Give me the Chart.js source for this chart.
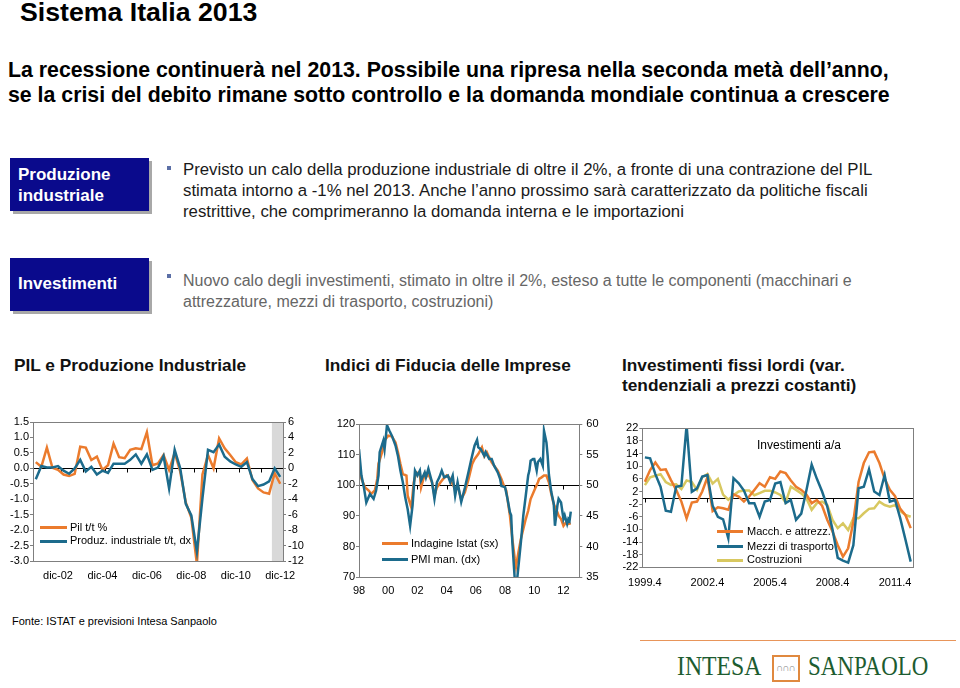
<!DOCTYPE html>
<html><head><meta charset="utf-8">
<script src="https://cdn.jsdelivr.net/npm/chart.js@4.4.0/dist/chart.umd.min.js"></script>
<style>
body{margin:0;width:960px;height:688px;background:#fff;position:relative;overflow:hidden;font-family:"Liberation Sans",Arial,sans-serif;color:#000;}
.t{position:absolute;white-space:nowrap;line-height:1;}
.box{position:absolute;left:10px;width:139px;height:53px;background:#0a0a8c;box-shadow:3px 3px 0 #a8a8a8;}
.bw{color:#fff;font-weight:bold;font-size:17px;}
.bul{position:absolute;left:167px;width:4px;height:4px;background:#5b6fa6;}
.lg{position:absolute;height:3px;}
canvas{position:absolute;}
</style></head><body>

<div class="t" style="left:20px;top:-0.6px;font-size:26.7px;font-weight:bold;">Sistema Italia 2013</div>
<div class="t" style="left:8px;top:60px;font-size:21.3px;font-weight:bold;">La recessione continuerà nel 2013. Possibile una ripresa nella seconda metà dell’anno,</div>
<div class="t" style="left:8px;top:85px;font-size:21.3px;font-weight:bold;">se la crisi del debito rimane sotto controllo e la domanda mondiale continua a crescere</div>

<div class="box" style="top:158px;"></div>
<div class="t bw" style="left:18px;top:165.6px;">Produzione</div>
<div class="t bw" style="left:18px;top:186.6px;">industriale</div>
<div class="bul" style="top:166px;"></div>
<div class="t" style="left:183px;top:161.8px;font-size:16.8px;color:#1a1a1a;">Previsto un calo della produzione industriale di oltre il 2%, a fronte di una contrazione del PIL</div>
<div class="t" style="left:183px;top:182.8px;font-size:16.8px;color:#1a1a1a;">stimata intorno a -1% nel 2013. Anche l’anno prossimo sarà caratterizzato da politiche fiscali</div>
<div class="t" style="left:183px;top:203.8px;font-size:16.8px;color:#1a1a1a;">restrittive, che comprimeranno la domanda interna e le importazioni</div>

<div class="box" style="top:258px;"></div>
<div class="t bw" style="left:18px;top:274.6px;">Investimenti</div>
<div class="bul" style="top:274px;"></div>
<div class="t" style="left:183px;top:272.5px;font-size:16px;color:#666;">Nuovo calo degli investimenti, stimato in oltre il 2%, esteso a tutte le componenti (macchinari e</div>
<div class="t" style="left:183px;top:293.5px;font-size:16px;color:#666;">attrezzature, mezzi di trasporto, costruzioni)</div>

<div class="t" style="left:14px;top:357.4px;font-size:17.3px;font-weight:bold;color:#111;">PIL e Produzione Industriale</div>
<div class="t" style="left:325px;top:357.4px;font-size:17.3px;font-weight:bold;color:#111;">Indici di Fiducia delle Imprese</div>
<div class="t" style="left:622px;top:357.4px;font-size:17.3px;font-weight:bold;color:#111;">Investimenti fissi lordi (var.</div>
<div class="t" style="left:622px;top:377.4px;font-size:17.3px;font-weight:bold;color:#111;">tendenziali a prezzi costanti)</div>

<canvas id="c1" width="310" height="185" style="left:0px;top:410px;"></canvas>
<canvas id="c2" width="300" height="190" style="left:320px;top:410px;"></canvas>
<canvas id="c3" width="350" height="185" style="left:610px;top:410px;"></canvas>

<!-- legends -->
<div class="lg" style="left:40px;top:526px;width:27px;background:#EB7B2D;"></div>
<div class="t" style="left:70px;top:521.6px;font-size:11px;">Pil t/t %</div>
<div class="lg" style="left:40px;top:539.5px;width:27px;background:#1C6B8C;"></div>
<div class="t" style="left:70px;top:535.3px;font-size:11px;">Produz. industriale t/t, dx</div>

<div class="lg" style="left:382px;top:542px;width:26px;background:#EB7B2D;"></div>
<div class="t" style="left:411px;top:537.6px;font-size:11px;">Indagine Istat (sx)</div>
<div class="lg" style="left:382px;top:558px;width:26px;background:#1C6B8C;"></div>
<div class="t" style="left:411px;top:553.6px;font-size:11px;">PMI man. (dx)</div>

<div class="t" style="left:757px;top:438.8px;font-size:12px;">Investimenti a/a</div>
<div class="lg" style="left:717px;top:530px;width:26px;background:#EB7B2D;"></div>
<div class="t" style="left:747px;top:526px;font-size:11px;">Macch. e attrezz.</div>
<div class="lg" style="left:717px;top:545px;width:26px;background:#1C6B8C;"></div>
<div class="t" style="left:747px;top:541px;font-size:11px;">Mezzi di trasporto</div>
<div class="lg" style="left:717px;top:558.5px;width:26px;background:#D8C860;"></div>
<div class="t" style="left:747px;top:554.3px;font-size:11px;">Costruzioni</div>

<div class="t" style="left:12px;top:615.7px;font-size:11px;">Fonte: ISTAT e previsioni Intesa Sanpaolo</div>

<!-- logo -->
<div style="position:absolute;left:640px;top:640px;width:316px;height:1px;background:#e8955a;"></div>
<div class="t" style="left:677px;top:653.4px;font-family:'Liberation Serif',serif;font-size:27px;color:#1d5c30;transform:scaleX(0.88);transform-origin:left;">INTESA</div>
<div style="position:absolute;left:772px;top:655px;width:24px;height:23px;border:2px solid #e0893f;"></div>
<div class="t" style="left:776px;top:663px;font-size:10px;color:#8a8a8a;letter-spacing:-1px;">∩∩∩</div>
<div class="t" style="left:808px;top:653.4px;font-family:'Liberation Serif',serif;font-size:27px;color:#1d5c30;transform:scaleX(0.85);transform-origin:left;">SANPAOLO</div>

<script>
// ---------- Chart 1: PIL e Produzione Industriale (quarterly) ----------
const pilQuarters = ["dic-01","mar-02","giu-02","set-02","dic-02","mar-03","giu-03","set-03","dic-03","mar-04","giu-04","set-04","dic-04","mar-05","giu-05","set-05","dic-05","mar-06","giu-06","set-06","dic-06","mar-07","giu-07","set-07","dic-07","mar-08","giu-08","set-08","dic-08","mar-09","giu-09","set-09","dic-09","mar-10","giu-10","set-10","dic-10","mar-11","giu-11","set-11","dic-11","mar-12","giu-12","set-12","dic-12"];
const pilValues = [0.2,0.05,0.67,0.02,-0.05,-0.2,-0.25,-0.18,0.7,0.67,0.27,0.38,-0.05,0.1,0.8,0.36,0.33,0.6,0.65,0.62,1.17,0.1,0.16,0.43,-0.05,0.5,-0.1,-1.1,-1.6,-3.1,-0.2,0.43,0.0,0.97,0.65,0.43,0.2,0.13,0.32,-0.38,-0.65,-0.78,-0.82,-0.16,-0.5];
const prodValues = [-1.4,0.3,0.1,0.1,0.3,-0.3,-0.7,0.0,1.1,-0.4,0.2,-0.8,-0.3,-0.6,0.6,0.6,0.6,1.1,1.8,0.6,1.8,-0.2,0.1,1.6,-2.6,2.4,0.0,-4.6,-6.1,-10.8,-3.9,2.4,2.1,3.1,1.5,0.9,0.5,0.2,0.8,-1.4,-2.3,-2.1,-1.7,0.0,-1.1];
const pilForecastStart = 42.5;   // shaded forecast region (category index boundary)
const pilTickPositions = [0.5,4.5,8.5,12.5,16.5,20.5,24.5,28.5,32.5,36.5,40.5];

// ---------- Chart 2: Indici di fiducia (monthly, months since Jan 1998) ----------
const istatMonths = [0,2,5,8,10,13,15,16,19,21,24,27,30,32,34,36,39,40,43,45,47,50,51,54,55,57,60,62,64,67,69,72,74,76,79,81,84,87,90,93,95,98,101,103,105,107,109,111,114,117,119,121,122,124,126,128,129,131,133,135,137,139,141,144,147,148,150,152,154,156,158,160,163,164,166,168,170,172,174];
const istatValues = [106.4,102.1,99.3,98.3,97.2,98.3,102.1,107,110.8,114.6,116.2,116,114,110.8,107,103.7,103.2,96.6,92.8,101,104.2,103.7,99.3,103.7,102.6,103.7,101,96.6,99.3,101,102,103.2,102.6,101,98.8,99.9,95.5,97.7,102,107,108.6,110.2,112.4,109.5,110.8,109.1,107.5,106.4,104.8,102.1,99.9,98.3,95.5,90.1,82.5,76,73.5,78.2,82.5,85.8,89,91.7,95.5,98.3,101,102.1,102.6,103.2,103.2,101,97.2,93.9,91.2,90.1,89,86.8,87.9,87.4,87.6];
const pmiMonths = [0,2,4,6,9,12,14,16,17,20,21,23,25,27,30,32,34,36,38,40,42,44,46,48,50,51,54,55,57,60,62,64,66,68,70,73,75,77,79,81,84,87,90,92,94,95,97,98,100,103,104,107,109,111,114,116,117,120,122,124,125,126,128,129,130,133,135,137,139,140,141,143,144,146,147,149,151,152,154,155,156,158,160,161,163,164,166,168,169,171,172,173,174];
const pmiValues = [55.9,51.6,49.7,47.2,48.6,47.8,49.1,51.6,55.4,57.3,55.9,59.8,58.9,58.1,56.5,54.8,52.4,50.5,48,46.1,43.4,46.7,52.4,51.6,52.4,50.8,52.1,51.3,52.7,50.5,47.8,50.5,51.3,52.4,51.3,51.6,50.5,51.6,48.3,50.5,47.3,49.6,52.2,54,55.7,56.5,57.4,56.2,55.9,54.8,55.4,54.3,54.3,53.2,52.1,51,49.9,49.7,47.8,45.6,45.1,40.7,34.6,34.5,34.8,40.7,45.1,48.3,51.6,52.4,54,54.3,54.3,52.4,53.8,54.3,53.2,58.9,57,54.8,51.8,48.9,47,43.4,46.7,47.8,47.2,44.5,45.1,43.7,44.5,44.2,45.7];
const yearTickMonths = [0,24,48,72,96,120,144,168];
const yearTickLabels = ["98","00","02","04","06","08","10","12"];

// ---------- Chart 3: Investimenti (quarterly, yoy %) ----------
const invQuarters = ["1999.4","2000.1","2000.2","2000.3","2000.4","2001.1","2001.2","2001.3","2001.4","2002.1","2002.2","2002.3","2002.4","2003.1","2003.2","2003.3","2003.4","2004.1","2004.2","2004.3","2004.4","2005.1","2005.2","2005.3","2005.4","2006.1","2006.2","2006.3","2006.4","2007.1","2007.2","2007.3","2007.4","2008.1","2008.2","2008.3","2008.4","2009.1","2009.2","2009.3","2009.4","2010.1","2010.2","2010.3","2010.4","2011.1","2011.2","2011.3","2011.4","2012.1","2012.2","2012.3"];
const macchValues = [5.1,8.8,11.2,8.8,9,5.6,2.5,-1.2,-6.5,-1.5,-1.2,2,6.5,-4.2,-3,-3.3,-3.8,1.1,0.4,-1.2,0.4,2.5,4.6,3.5,6.5,6,8.3,7.8,5.5,3.5,2.5,1,-1.7,-0.7,-2.5,-7,-10.7,-15,-18.6,-16,-7.5,5,11,14.4,14.6,11,6,2.5,0.5,-3.5,-5.5,-9.6];
const mezziValues = [12.8,12.5,7.5,3.5,-4.1,-4.4,3.5,3.8,23,1.9,3,6.7,7.2,-2.5,-6,-6.8,-12.8,6.2,4.6,2.3,-1.7,-1.7,-6,-1.2,-0.7,4.5,5,-1.7,-0.7,-7,-5,2.5,10.5,6,2,-2.8,-10,-19,-19.9,-20.5,-15,3,3.5,9,2,0.9,7.2,-1.2,-0.7,-6.5,-13.3,-20.2];
const costrValues = [4,6.5,7,7.5,5,4.1,4.3,2.8,5.5,5,2.5,6.5,7.5,4.5,6,1,-0.6,0.8,2,2.3,2.3,0.8,1.5,2.2,2.2,1.7,0.9,-1.5,3.5,2.5,1.4,-0.2,-3.8,-1.7,-1.2,-2.3,-7,-9.6,-8.1,-10.2,-6.5,-6.5,-4.9,-3.5,-3.3,-1.2,-2.3,-2.8,-2.3,-4.2,-5.4,-6];
const invTickPositions = [0,12,24,36,48];

const ORANGE = '#EB7B2D', BLUE = '#1C6B8C', YELLOW = '#D8C860';
Chart.defaults.font.family = '"Liberation Sans", Arial, sans-serif';
Chart.defaults.font.size = 11;
Chart.defaults.color = '#000';

function decor(opts){
  return {
    id: 'decor',
    beforeDatasetsDraw(chart){
      const ctx = chart.ctx, a = chart.chartArea, xs = chart.scales.x;
      ctx.save();
      if (opts.band != null){
        const x0 = xs.getPixelForValue(opts.band);
        ctx.fillStyle = '#d9d9d9';
        ctx.fillRect(x0, a.top, a.right - x0, a.bottom - a.top);
      }
      const ys = chart.scales[opts.axis];
      const y0 = Math.round(ys.getPixelForValue(opts.zero)) + 0.5;
      ctx.strokeStyle = '#000'; ctx.lineWidth = 1;
      ctx.beginPath();
      ctx.moveTo(a.left, y0); ctx.lineTo(a.right, y0);
      opts.ticks.forEach(v => {
        const x = Math.round(xs.getPixelForValue(v)) + 0.5;
        ctx.moveTo(x, y0); ctx.lineTo(x, y0 + 4);
      });
      ctx.stroke();
      ctx.restore();
    },
    afterDraw(chart){
      const ctx = chart.ctx, a = chart.chartArea;
      ctx.save();
      ctx.strokeStyle = '#7f7f7f'; ctx.lineWidth = 1;
      ctx.strokeRect(Math.round(a.left) + 0.5, Math.round(a.top) + 0.5, Math.round(a.right - a.left), Math.round(a.bottom - a.top));
      ctx.restore();
    }
  };
}

const yGrid = {display:true, drawOnChartArea:false, drawTicks:true, tickLength:3, color:'#7f7f7f'};
const lineDs = (label, data, color, axis, order) => ({label, data, borderColor:color, backgroundColor:color, borderWidth:2.5, pointRadius:0, tension:0, yAxisID:axis, order});

new Chart(document.getElementById('c1'), {
  type:'line',
  data:{labels:pilQuarters, datasets:[
    lineDs('Pil t/t %', pilValues, ORANGE, 'y', 2),
    lineDs('Produz. industriale t/t, dx', prodValues, BLUE, 'y2', 1)
  ]},
  options:{
    responsive:false, animation:false, devicePixelRatio:1,
    layout:{padding:{top:12,left:0,right:0,bottom:0}},
    plugins:{legend:{display:false}, tooltip:{enabled:false}},
    scales:{
      x:{offset:true, grid:{display:false, drawTicks:false}, border:{display:false},
         ticks:{autoSkip:false, maxRotation:0, padding:8, callback:(v,i)=> (i%8===4 ? pilQuarters[i] : '')},
         afterFit:s=>{s.height=34;}},
      y:{position:'left', min:-3, max:1.5, grid:yGrid, border:{display:false},
         ticks:{stepSize:0.5, autoSkip:false, padding:1, callback:v=>Number(v).toFixed(1)},
         afterFit:s=>{s.width=33;}},
      y2:{position:'right', min:-12, max:6, grid:yGrid, border:{display:false},
         ticks:{stepSize:2, autoSkip:false, padding:2},
         afterFit:s=>{s.width=27;}}
    }
  },
  plugins:[decor({band:pilForecastStart, axis:'y', zero:0, ticks:pilTickPositions})]
});

new Chart(document.getElementById('c2'), {
  type:'line',
  data:{datasets:[
    lineDs('Indagine Istat (sx)', istatMonths.map((m,i)=>({x:m, y:istatValues[i]})), ORANGE, 'y', 2),
    lineDs('PMI man. (dx)', pmiMonths.map((m,i)=>({x:m, y:pmiValues[i]})), BLUE, 'y2', 1)
  ]},
  options:{
    responsive:false, animation:false, devicePixelRatio:1,
    layout:{padding:{top:14,left:0,right:0,bottom:0}},
    plugins:{legend:{display:false}, tooltip:{enabled:false}},
    scales:{
      x:{type:'linear', min:0, max:181, grid:{display:false, drawTicks:false}, border:{display:false},
         afterBuildTicks:s=>{s.ticks = yearTickMonths.map(v=>({value:v}));},
         ticks:{autoSkip:false, maxRotation:0, padding:7, callback:v=>{const k=yearTickMonths.indexOf(v); return k>=0?yearTickLabels[k]:'';}},
         afterFit:s=>{s.height=22.7;}},
      y:{position:'left', min:70, max:120, grid:yGrid, border:{display:false},
         ticks:{stepSize:10, autoSkip:false, padding:1}, afterFit:s=>{s.width=39;}},
      y2:{position:'right', min:35, max:60, grid:yGrid, border:{display:false},
         ticks:{stepSize:5, autoSkip:false, padding:4}, afterFit:s=>{s.width=40.7;}}
    }
  },
  plugins:[decor({band:null, axis:'y', zero:100, ticks:[24,48,72,96,120,144,168]})]
});

new Chart(document.getElementById('c3'), {
  type:'line',
  data:{labels:invQuarters, datasets:[
    lineDs('Macch. e attrezz.', macchValues, ORANGE, 'y', 2),
    lineDs('Mezzi di trasporto', mezziValues, BLUE, 'y', 1),
    lineDs('Costruzioni', costrValues, YELLOW, 'y', 3)
  ]},
  options:{
    responsive:false, animation:false, devicePixelRatio:1,
    layout:{padding:{top:18.3,left:0,right:46.7,bottom:0}},
    plugins:{legend:{display:false}, tooltip:{enabled:false}},
    scales:{
      x:{offset:true, grid:{display:false, drawTicks:false}, border:{display:false},
         ticks:{autoSkip:false, maxRotation:0, padding:9, callback:(v,i)=> (i%12===0 ? invQuarters[i] : '')},
         afterFit:s=>{s.height=27.7;}},
      y:{position:'left', min:-22, max:22, grid:yGrid, border:{display:false},
         ticks:{stepSize:4, autoSkip:false, padding:1}, afterFit:s=>{s.width=32.3;}}
    }
  },
  plugins:[decor({band:null, axis:'y', zero:0, ticks:invTickPositions})]
});
</script>
</body></html>
